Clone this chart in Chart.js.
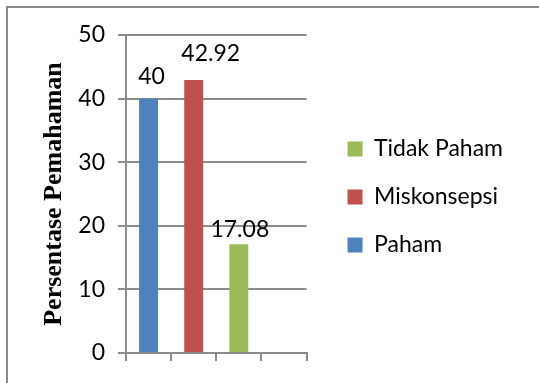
<!DOCTYPE html>
<html>
<head>
<meta charset="utf-8">
<script src="https://cdn.jsdelivr.net/npm/chart.js@4"></script>
<style>
  html, body { margin: 0; padding: 0; background: #fff; }
  #wrap { position: relative; width: 539px; height: 383px; overflow: hidden; }
  #frame { position: absolute; left: 6px; top: 6px; right: -10px; bottom: -10px;
           border-left: 2px solid #8c8c8c; border-top: 2px solid #8c8c8c; pointer-events: none; }
</style>
</head>
<body>
<div id="wrap">
  <canvas id="chart" width="539" height="383"></canvas>
  <div id="frame"></div>
</div>
<script>
// data
const seriesNames = ['Paham', 'Miskonsepsi', 'Tidak Paham'];
const seriesValues = [40, 42.92, 17.08];
const seriesColors = ['#4F81BD', '#C0504D', '#9BBB59'];
const slotLabels = ['', '', '', ''];
const yTicks = [0, 10, 20, 30, 40, 50];

// small shifts of the value labels, as in the picture
const labelNudge = [[3, -2], [17, -6], [1, 5]];

const gridGrey = '#8c8c8c';

const valueLabels = {
    id: 'valueLabels',
    afterDatasetsDraw(chart) {
        const ctx = chart.ctx;
        ctx.save();
        ctx.font = '23px Lato';
        ctx.fillStyle = '#000';
        ctx.textAlign = 'center';
        ctx.textBaseline = 'middle';
        seriesValues.forEach((v, i) => {
            const bar = chart.getDatasetMeta(i).data[i];
            ctx.fillText(String(v), bar.x + labelNudge[i][0], bar.y - 20 + labelNudge[i][1]);
        });
        ctx.restore();
    }
};

const datasets = seriesNames.map((name, i) => ({
    label: name,
    data: slotLabels.map((_, j) => j === i ? seriesValues[i] : null),
    backgroundColor: seriesColors[i],
    borderWidth: 0
}));

new Chart(document.getElementById('chart'), {
    type: 'bar',
    data: { labels: slotLabels, datasets: datasets },
    plugins: [valueLabels],
    options: {
        responsive: false,
        animation: false,
        grouped: false,
        categoryPercentage: 1,
        barPercentage: 0.42,
        layout: { padding: { left: 30, top: 35, right: 26, bottom: 24 } },
        scales: {
            x: {
                offset: true,
                grid: { offset: true, drawOnChartArea: false, drawTicks: true, tickLength: 8, color: gridGrey, lineWidth: 2 },
                border: { color: gridGrey, width: 2 },
                ticks: { display: false },
                afterFit: s => { s.height = 6; }
            },
            y: {
                min: 0,
                max: 50,
                afterBuildTicks: s => { s.ticks = yTicks.map(v => ({ value: v })); },
                ticks: { font: { family: 'Lato', size: 23 }, color: '#000', padding: 13 },
                grid: { color: gridGrey, lineWidth: 2, tickLength: 8 },
                border: { color: gridGrey, width: 2 },
                title: {
                    display: true,
                    text: 'Persentase Pemahaman',
                    font: { family: "'Liberation Serif', 'Times New Roman', serif", size: 26, weight: 'bold' },
                    color: '#000',
                    padding: { top: 9, bottom: 0 }
                },
                afterFit: s => { s.width = 96; }
            },
            gap: {
                type: 'linear',
                position: 'right',
                display: true,
                grid: { display: false },
                ticks: { display: false },
                border: { display: false },
                afterFit: s => { s.width = 16; }
            }
        },
        plugins: {
            legend: {
                position: 'right',
                reverse: true,
                maxWidth: 300,
                labels: {
                    font: { family: 'Lato', size: 23 },
                    color: '#000',
                    boxWidth: 15,
                    boxHeight: 15,
                    padding: 25
                }
            },
            tooltip: { enabled: false }
        }
    }
});
</script>
</body>
</html>
